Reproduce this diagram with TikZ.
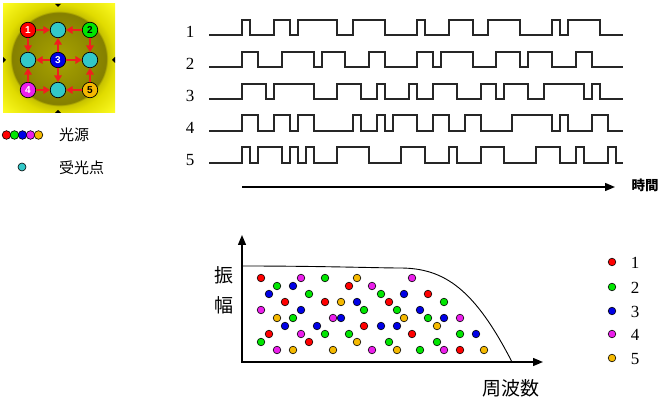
\documentclass[tikz,border=0pt]{standalone}
\usepackage{fontspec}
\setmainfont{Liberation Serif}
\newfontfamily\cjk{Noto Sans CJK JP}
\newfontfamily\numsans{Liberation Sans}
\usetikzlibrary{arrows.meta}
\definecolor{srcred}{RGB}{255,0,0}
\definecolor{srcgreen}{RGB}{0,230,0}
\definecolor{srcblue}{RGB}{0,0,230}
\definecolor{srcpink}{RGB}{235,30,235}
\definecolor{srcgold}{RGB}{245,185,0}
\definecolor{rcvcyan}{RGB}{50,200,200}
\definecolor{raycol}{RGB}{240,30,30}
\pgfdeclareradialshading{glow}{\pgfpoint{0bp}{0bp}}{rgb(0bp)=(0.66,0.64,0); rgb(21bp)=(0.52,0.5,0); rgb(21.8bp)=(0.78,0.76,0); rgb(25bp)=(0.88,0.86,0); rgb(36bp)=(1,1,0.15); rgb(50bp)=(1,1,0.15)}
\begin{document}
\begin{tikzpicture}[x=1pt,y=-1pt,line join=miter,>={Triangle[length=10pt,width=8pt]},
  sig/.style={line width=1.1pt,black!85},
  src/.style={circle,draw,line width=0.7pt,minimum size=15.5pt,inner sep=0pt,font=\numsans\bfseries\fontsize{10}{10}\selectfont},
  rcv/.style={src,fill=rcvcyan},
  ray/.style={raycol,line width=1.7pt,-{Triangle[length=6.5pt,width=7.5pt]}},
  dot/.style={circle,draw,line width=0.6pt,minimum size=7.6pt,inner sep=0pt},
  lbl/.style={font=\fontsize{17}{17}\selectfont,inner sep=0pt},
  jp/.style={font=\cjk\fontsize{19}{19}\selectfont,inner sep=0pt},
  axis/.style={line width=1.4pt}]
\useasboundingbox (0,0) rectangle (662,403);
\shade[shading=glow] (3,4) rectangle (115,113);
\fill (55,4) -- (61,4) -- (58,7) -- cycle;
\fill (3,57) -- (3,63) -- (6,60) -- cycle;
\fill (115,57) -- (115,63) -- (112,60) -- cycle;
\fill (55,113) -- (61,113) -- (58,110) -- cycle;
\node[src,fill=srcred,text=white] (s1) at (28,30) {1};
\node[rcv] (rt) at (58,30) {};
\node[src,fill=srcgreen] (s2) at (90,30) {2};
\node[rcv] (rl) at (28,60) {};
\node[src,fill=srcblue,text=white] (s3) at (58,60) {3};
\node[rcv] (rr) at (90,60) {};
\node[src,fill=srcpink,text=white] (s4) at (28,90) {4};
\node[rcv] (rb) at (58,90) {};
\node[src,fill=srcgold] (s5) at (90,90) {5};
\draw[ray] (s1) -- (rt);
\draw[ray] (s2) -- (rt);
\draw[ray] (s1) -- (rl);
\draw[ray] (s2) -- (rr);
\draw[ray] (s3) -- (rt);
\draw[ray] (s3) -- (rl);
\draw[ray] (s3) -- (rr);
\draw[ray] (s3) -- (rb);
\draw[ray] (s4) -- (rl);
\draw[ray] (s4) -- (rb);
\draw[ray] (s5) -- (rb);
\draw[ray] (s5) -- (rr);
\foreach \c/\x [count=\i] in {srcred/6.5,srcgreen/14.5,srcblue/22.5,srcpink/30.5,srcgold/38.5}
  \node[dot,minimum size=8.6pt,fill=\c] (m\i) at (\x,135) {};
\node[jp,font=\cjk\fontsize{15}{15}\selectfont,anchor=west] (srclbl) at (59,135) {光源};
\node[dot,minimum size=8pt,fill=rcvcyan] (mr) at (22,167) {};
\node[jp,font=\cjk\fontsize{15}{15}\selectfont,anchor=west] (rcvlbl) at (59,168) {受光点};
\node[lbl] (n1) at (190,32) {1};
\node[lbl] (n2) at (190,64) {2};
\node[lbl] (n3) at (190,96) {3};
\node[lbl] (n4) at (190,128) {4};
\node[lbl] (n5) at (190,160) {5};
\draw[sig] (209,35) -| (242,20) -| (250,35) -| (274,20) -| (290,35) -| (298,20) -| (337,35) -| (353,20) -| (385,35) -| (417,20) -| (425,35) -| (449,20) -| (473,35) -| (488,20) -| (520,35) -| (552,20) -| (560,35) -| (568,20) -| (600,35) -- (623,35);
\draw[sig] (209,67) -| (242,52) -| (258,67) -| (282,52) -| (314,67) -| (322,52) -| (345,67) -| (369,52) -| (385,67) -| (417,52) -| (433,67) -| (441,52) -| (473,67) -| (496,52) -| (520,67) -| (528,52) -| (552,67) -| (576,52) -| (592,67) -- (623,67);
\draw[sig] (209,99) -| (242,84) -| (266,99) -| (274,84) -| (314,99) -| (337,84) -| (361,99) -| (377,84) -| (385,99) -| (409,84) -| (417,99) -| (433,84) -| (457,99) -| (481,84) -| (496,99) -| (504,84) -| (528,99) -| (544,84) -| (584,99) -| (592,84) -| (600,99) -- (623,99);
\draw[sig] (209,131) -| (242,115) -| (258,131) -| (274,115) -| (290,131) -| (298,115) -| (314,131) -| (353,115) -| (361,131) -| (377,115) -| (385,131) -| (393,115) -| (417,131) -| (433,115) -| (449,131) -| (465,115) -| (481,131) -| (512,115) -| (552,131) -| (560,115) -| (568,131) -| (592,115) -| (608,131) -- (623,131);
\draw[sig] (209,163) -| (242,147) -| (250,163) -| (258,147) -| (282,163) -| (290,147) -| (298,163) -| (306,147) -| (314,163) -| (337,147) -| (369,163) -| (401,147) -| (425,163) -| (449,147) -| (457,163) -| (481,147) -| (504,163) -| (536,147) -| (560,163) -| (576,147) -| (584,163) -| (608,147) -| (616,163) -- (623,163);
\coordinate (t0) at (242,187);
\coordinate (tend) at (615,187);
\draw[axis,->] (t0) -- (tend);
\node[font=\cjk\bfseries\fontsize{13.5}{13.5}\selectfont,inner sep=0pt] (time) at (645,185) {時間};
\coordinate (ytop) at (242,235);
\coordinate (o) at (242,362);
\coordinate (xend) at (543,362);
\draw[axis,<->] (ytop) -- (o) -- (xend);
\draw[line width=0.9pt] (242,266) .. controls (320,266) and (380,268) .. (400,268) .. controls (445,268) and (475,290) .. (512,362);
\node[jp] (amp1) at (224,275) {振};
\node[jp] (amp2) at (224,305) {幅};
\node[jp] (freq) at (511,388) {周波数};
\foreach \p [count=\i] in {(261,278),(349,286),(428,294),(285,302),(325,302),(389,302),(364,326),(269,334),(412,334),(309,342),(460,350)}
  \node[dot,fill=srcred] (dr\i) at \p {};
\foreach \p [count=\i] in {(325,278),(277,286),(309,294),(381,294),(444,302),(364,310),(397,310),(293,318),(428,318),(325,334),(349,334),(460,334),(261,342),(389,342),(437,342),(420,350)}
  \node[dot,fill=srcgreen] (dg\i) at \p {};
\foreach \p [count=\i] in {(293,286),(269,294),(404,294),(357,302),(301,310),(420,310),(341,318),(444,318),(285,326),(317,326),(381,326),(397,326),(476,334)}
  \node[dot,fill=srcblue] (db\i) at \p {};
\foreach \p [count=\i] in {(301,278),(412,278),(372,286),(261,310),(333,318),(460,318),(301,334),(277,350),(372,350),(444,350)}
  \node[dot,fill=srcpink] (dp\i) at \p {};
\foreach \p [count=\i] in {(357,278),(341,302),(277,318),(404,318),(437,326),(357,342),(293,350),(333,350),(397,350),(484,350)}
  \node[dot,fill=srcgold] (dy\i) at \p {};
\foreach \c/\y [count=\i] in {srcred/262,srcgreen/287,srcblue/311,srcpink/334,srcgold/358}{
  \node[dot,fill=\c] (k\i) at (612,\y) {};
  \node[lbl] (kt\i) at (635,\y+1) {\i};}
\end{tikzpicture}
\end{document}
